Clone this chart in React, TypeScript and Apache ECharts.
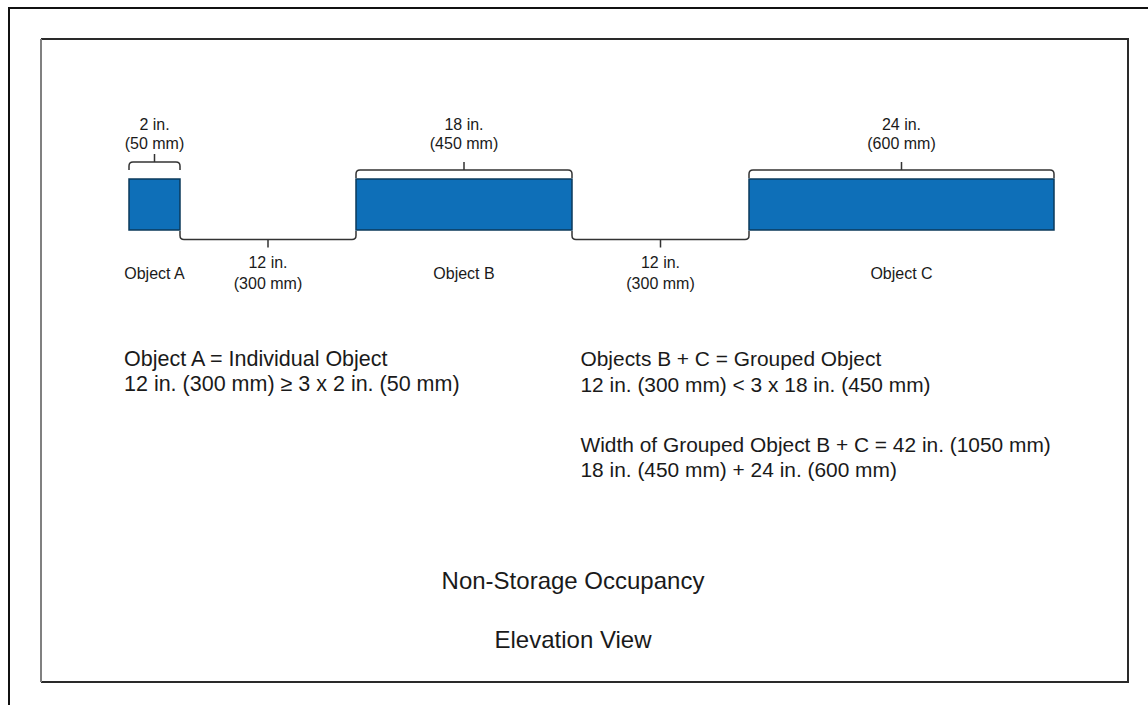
import React, { useEffect, useRef } from "react";
import * as echarts from "echarts";

// ---- Data ----
const objectLabels = ["Object A", "Object B", "Object C"];
const objectInches = [2, 18, 24];
const objectMm = [50, 450, 600];
const gapInches = [12, 12];
const gapMm = [300, 300];
// schematic (not-to-scale) drawing lengths, in drawing units
const objectDrawnWidths = [51, 216, 305];
const gapDrawnWidths = [176, 177];

const notesLeft = ["Object A = Individual Object", "12 in. (300 mm) \u2265 3 x 2 in. (50 mm)"];
const notesRight = ["Objects B + C = Grouped Object", "12 in. (300 mm) < 3 x 18 in. (450 mm)"];
const notesRight2 = ["Width of Grouped Object B + C = 42 in. (1050 mm)", "18 in. (450 mm) + 24 in. (600 mm)"];
const titleLines = ["Non-Storage Occupancy", "Elevation View"];

// ---- Build segment data ----
const objectData: number[][] = [];
const gapData: number[][] = [];
let cursor = 0;
objectDrawnWidths.forEach((w, i) => {
  objectData.push([cursor, cursor + w, i]);
  cursor += w;
  if (i < gapDrawnWidths.length) {
    gapData.push([cursor, cursor + gapDrawnWidths[i], i]);
    cursor += gapDrawnWidths[i];
  }
});
const totalUnits = cursor;

const FONT = "'Liberation Sans', Arial, Helvetica, sans-serif";
const BRACE_COLOR = "#333333";
const topBraceLift = [8, 0, 0];

function txt(text: string, x: number, y: number, size: number, align = "center") {
  return {
    type: "text",
    silent: true,
    style: {
      text,
      x,
      y,
      fill: "#1a1a1a",
      fontSize: size,
      fontFamily: FONT,
      align,
      verticalAlign: "middle",
      textAlign: align,
      textVerticalAlign: "middle",
    },
  };
}

function bracePath(x0: number, x1: number, yEnd: number, yLine: number, yTick: number) {
  const r = 4;
  const dir = yEnd > yLine ? 1 : -1;
  const xm = (x0 + x1) / 2;
  return (
    `M${x0},${yEnd} L${x0},${yLine + dir * r} Q${x0},${yLine} ${x0 + r},${yLine} ` +
    `L${x1 - r},${yLine} Q${x1},${yLine} ${x1},${yLine + dir * r} L${x1},${yEnd} ` +
    `M${xm},${yLine} L${xm},${yTick}`
  );
}

export default function App() {
  const ref = useRef<HTMLDivElement>(null);

  useEffect(() => {
    if (!ref.current) return;
    const prevMargin = document.body.style.margin;
    const prevOverflow = document.body.style.overflow;
    document.body.style.margin = "0";
    document.body.style.overflow = "hidden";

    const chart = echarts.init(ref.current, null, { renderer: "svg" });

    const option: any = {
      animation: false,
      tooltip: { show: false },
      grid: { left: 129, top: 179, width: 925, height: 51 },
      xAxis: { type: "value", min: 0, max: totalUnits, show: false },
      yAxis: { type: "value", min: 0, max: 1, show: false },
      series: [
        {
          type: "custom",
          name: "objects",
          silent: true,
          clip: false,
          data: objectData,
          renderItem: (params: any, api: any) => {
            const s = api.value(0);
            const e = api.value(1);
            const i = api.value(2);
            const tl = api.coord([s, 1]);
            const br = api.coord([e, 0]);
            const x0 = tl[0];
            const x1 = br[0];
            const yTop = tl[1];
            const yBot = br[1];
            const xm = (x0 + x1) / 2;
            const lift = topBraceLift[i] || 0;
            const yLine = yTop - 9 - lift;
            return {
              type: "group",
              children: [
                {
                  type: "rect",
                  shape: { x: x0, y: yTop, width: x1 - x0, height: yBot - yTop },
                  style: { fill: "#0E6FB8", stroke: "#0B3A5B", lineWidth: 1.5 },
                },
                {
                  type: "path",
                  shape: { pathData: bracePath(x0, x1, yTop - 1 - lift, yLine, yLine - 8) },
                  style: { fill: "none", stroke: BRACE_COLOR, lineWidth: 1.5 },
                },
                txt(`${objectInches[i]} in.`, xm, yTop - 54.5, 16),
                txt(`(${objectMm[i]} mm)`, xm, yTop - 35.5, 16),
                txt(objectLabels[i], xm, yBot + 43.5, 16),
              ],
            };
          },
        },
        {
          type: "custom",
          name: "gaps",
          silent: true,
          clip: false,
          data: gapData,
          renderItem: (params: any, api: any) => {
            const s = api.value(0);
            const e = api.value(1);
            const i = api.value(2);
            const p0 = api.coord([s, 0]);
            const p1 = api.coord([e, 0]);
            const x0 = p0[0];
            const x1 = p1[0];
            const yBot = p0[1];
            const xm = (x0 + x1) / 2;
            const yLine = yBot + 9.5;
            return {
              type: "group",
              children: [
                {
                  type: "path",
                  shape: { pathData: bracePath(x0, x1, yBot + 1, yLine, yLine + 8) },
                  style: { fill: "none", stroke: BRACE_COLOR, lineWidth: 1.5 },
                },
                txt(`${gapInches[i]} in.`, xm, yBot + 32.5, 16),
                txt(`(${gapMm[i]} mm)`, xm, yBot + 53.5, 16),
              ],
            };
          },
        },
      ],
      graphic: {
        elements: [
          {
            type: "rect",
            silent: true,
            shape: { x: 9, y: 8, width: 1400, height: 1000 },
            style: { fill: "none", stroke: "#111111", lineWidth: 2 },
          },
          {
            type: "polyline",
            silent: true,
            shape: { points: [[41, 39], [1128, 39], [1128, 682], [41, 682]] },
            style: { fill: "none", stroke: "#2a2a2a", lineWidth: 2 },
          },
          {
            type: "line",
            silent: true,
            shape: { x1: 41, y1: 39, x2: 41, y2: 682 },
            style: { stroke: "#808080", lineWidth: 2 },
          },
          txt(notesLeft[0], 124, 358.7, 21.5, "left"),
          txt(notesLeft[1], 124, 384.4, 21.5, "left"),
          txt(notesRight[0], 580.5, 358.7, 20.9, "left"),
          txt(notesRight[1], 580.5, 384.4, 20.9, "left"),
          txt(notesRight2[0], 580.5, 444.4, 20.9, "left"),
          txt(notesRight2[1], 580.5, 469.4, 20.9, "left"),
          txt(titleLines[0], 573, 580.7, 24),
          txt(titleLines[1], 573, 639.7, 24),
        ],
      },
    };

    chart.setOption(option);
    return () => {
      chart.dispose();
      document.body.style.margin = prevMargin;
      document.body.style.overflow = prevOverflow;
    };
  }, []);

  return <div ref={ref} style={{ width: 1148, height: 705, background: "#ffffff" }} />;
}
